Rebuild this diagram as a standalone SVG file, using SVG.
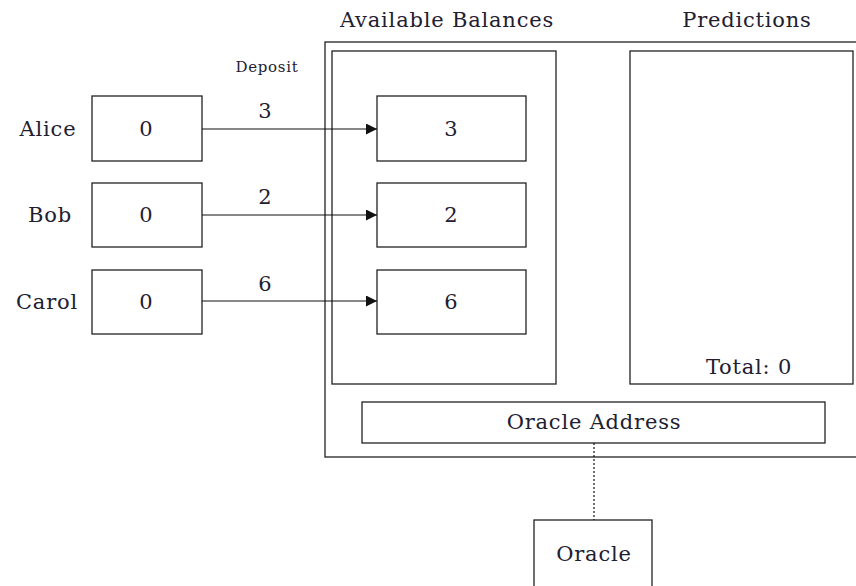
<svg xmlns="http://www.w3.org/2000/svg" width="856" height="586" viewBox="0 0 856 586">
<style>
rect{fill:#fff;stroke:#222;stroke-width:1.3}
rect.bg{stroke:none}
text{font-family:"DejaVu Serif","Liberation Serif",serif;fill:#1e2030;text-anchor:middle}
.t{font-size:21px;letter-spacing:0.8px}
.v{font-size:21px}
.s{font-size:15px;letter-spacing:0.7px}
.c{stroke:#111;stroke-width:1.2;fill:none}
</style>
<defs>
<marker id="ah" viewBox="0 0 10 10" refX="10" refY="5" markerWidth="11" markerHeight="11" markerUnits="userSpaceOnUse" orient="auto"><path d="M0,0L10,5L0,10z" fill="#111"/></marker>
</defs>
<rect class="bg" width="856" height="586"/>
<g id="contract">
<rect x="325" y="42" width="540" height="415"/>
</g>
<text class="t" x="447" y="27">Available Balances</text>
<text class="t" x="747" y="27">Predictions</text>
<g id="balances"><rect x="332" y="51" width="224" height="333"/></g>
<g id="predictions"><rect x="630" y="51" width="223" height="333"/><text class="t" x="749" y="374">Total: 0</text></g>
<g id="alice"><text class="t" x="48" y="136">Alice</text><rect x="92" y="96" width="110" height="65"/><text class="v" x="146" y="136">0</text></g>
<g id="bob"><text class="t" x="50" y="222">Bob</text><rect x="92" y="183" width="110" height="64"/><text class="v" x="146" y="222">0</text></g>
<g id="carol"><text class="t" x="47" y="309">Carol</text><rect x="92" y="270" width="110" height="64"/><text class="v" x="146" y="309">0</text></g>
<g id="bal-alice"><rect x="377" y="96" width="149" height="65"/><text class="v" x="451" y="136">3</text></g>
<g id="bal-bob"><rect x="377" y="183" width="149" height="64"/><text class="v" x="451" y="222">2</text></g>
<g id="bal-carol"><rect x="377" y="270" width="149" height="64"/><text class="v" x="451" y="309">6</text></g>
<g id="oracle-address"><rect x="362" y="402" width="463" height="41"/><text class="t" x="594" y="429">Oracle Address</text></g>
<g id="oracle"><rect x="534" y="520" width="118" height="80"/><text class="t" x="594" y="561">Oracle</text></g>
<text class="s" x="267" y="72">Deposit</text>
<g id="connectors">
<line class="c" x1="202" y1="129" x2="377" y2="129" marker-end="url(#ah)"/>
<line class="c" x1="202" y1="215" x2="377" y2="215" marker-end="url(#ah)"/>
<line class="c" x1="202" y1="301" x2="377" y2="301" marker-end="url(#ah)"/>
<line class="c" x1="594" y1="443" x2="594" y2="520" stroke-dasharray="2,2"/>
<text class="v" x="265" y="118">3</text>
<text class="v" x="265" y="204">2</text>
<text class="v" x="265" y="291">6</text>
</g>
</svg>
